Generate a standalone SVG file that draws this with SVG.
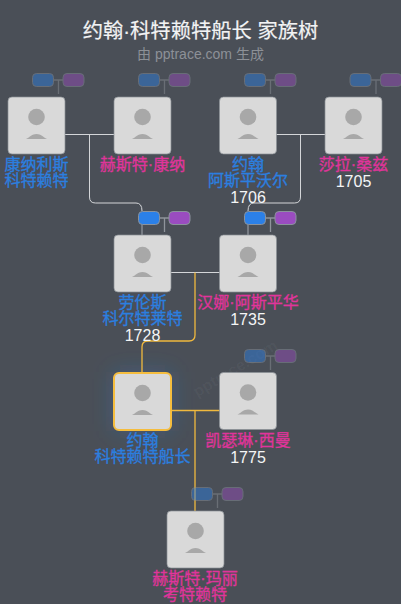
<svg xmlns="http://www.w3.org/2000/svg" width="401" height="604" viewBox="0 0 401 604">
<style>
text{font-family:"Liberation Sans","Noto Sans CJK SC",sans-serif;text-anchor:middle}
.t{font-size:20.300px;fill:#f2f3f4;stroke:#f2f3f4;stroke-width:.2}
.s{font-size:14px;fill:#8d9197}
.m{font-size:16px;fill:#2b7fe0;stroke:#2b7fe0;stroke-width:.3}
.f{font-size:16px;fill:#e0349b;stroke:#e0349b;stroke-width:.3}
.y{font-size:16px;fill:#f4f5f6}
.w{font-size:16px;font-weight:700;fill:#fff;fill-opacity:.04}
.box{fill:#d9d9d9;stroke:#8b9096;stroke-width:.7}
.sel{fill:#d9d9d9;stroke:#f5bd3e;stroke-width:2}
.hd{fill:#a8a8a8}
.bb{fill:#2b80e8;stroke:#8a929c}
.bp{fill:#9a4cc0;stroke:#8a929c}
.dim{opacity:.45}
.c{fill:none;stroke:#d4d6d9;stroke-width:1}
.g{fill:none;stroke:#f0b93e;stroke-width:1.300}
.k{fill:none;stroke:#8f949b;stroke-width:1.300}
</style>
<defs>
<g id="av"><circle cx="28.500" cy="20" r="8.300" class="hd"/><path d="M18 42C22 40 24 37 28.500 37C33 37 35 40 39 42Z" class="hd"/></g>
<g id="bd"><path d="M21.500 7H31M26.500 7V21" class="k"/><rect class="bb" x=".5" y=".5" width="21" height="13" rx="4"/><rect class="bp" x="31" y=".5" width="21" height="13" rx="4"/></g>
<filter id="bl" x="-60%" y="-60%" width="220%" height="220%"><feGaussianBlur stdDeviation="11"/></filter>
</defs>
<rect id="background" width="401" height="604" fill="#4a4f57"/>
<text class="w" transform="translate(238 373) rotate(-31)">pptrace.com</text>
<text id="title" class="t" x="200.500" y="38">约翰·科特赖特船长 家族树</text>
<text id="subtitle" class="s" x="200.500" y="59">由 pptrace.com 生成</text>
<rect x="113" y="372" width="59" height="59" fill="#2b7fe0" fill-opacity=".28" filter="url(#bl)"/>
<g id="connectors">
<path class="c" d="M65 134.500H114M89.500 134.500V197Q89.500 203 95.500 203H136Q142 203 142 211"/>
<path class="c" d="M276 134.500H325M300.500 134.500V197Q300.500 203 294.500 203H254Q248 203 248 211"/>
<path class="c" d="M170 272.500H220"/>
<path class="k" d="M142 224V235M248 224V235"/>
<path class="g" d="M195 272.500V335Q195 341 189 341H148Q142 341 142 347V372"/>
<path class="g" d="M172 410.500H220M195 410.500V511"/>
</g>
<g id="person-1"><use href="#bd" class="dim" x="32" y="73"/><rect class="box" x="8" y="97" width="57" height="57" rx="4"/><use href="#av" x="8" y="97"/><text class="m" x="36.500" y="170">康纳利斯</text><text class="m" x="36.500" y="186">科特赖特</text></g>
<g id="person-2"><use href="#bd" class="dim" x="138" y="73"/><rect class="box" x="114" y="97" width="57" height="57" rx="4"/><use href="#av" x="114" y="97"/><text class="f" x="142.500" y="170">赫斯特·康纳</text></g>
<g id="person-3"><use href="#bd" class="dim" x="244" y="73"/><rect class="box" x="219.500" y="97" width="57" height="57" rx="4"/><use href="#av" x="219.500" y="97"/><text class="m" x="248" y="170">约翰</text><text class="m" x="248" y="186">阿斯平沃尔</text><text class="y" x="248" y="203">1706</text></g>
<g id="person-4"><use href="#bd" class="dim" x="349.500" y="73"/><rect class="box" x="325" y="97" width="57" height="57" rx="4"/><use href="#av" x="325" y="97"/><text class="f" x="353.500" y="170">莎拉·桑兹</text><text class="y" x="353.500" y="187">1705</text></g>
<g id="person-5"><use href="#bd" x="138" y="211"/><rect class="box" x="114" y="235" width="57" height="57" rx="4"/><use href="#av" x="114" y="235"/><text class="m" x="142.500" y="308">劳伦斯</text><text class="m" x="142.500" y="324">科尔特莱特</text><text class="y" x="142.500" y="341">1728</text></g>
<g id="person-6"><use href="#bd" x="244" y="211"/><rect class="box" x="219.500" y="235" width="57" height="57" rx="4"/><use href="#av" x="219.500" y="235"/><text class="f" x="248" y="308">汉娜·阿斯平华</text><text class="y" x="248" y="325">1735</text></g>
<g id="person-7"><rect class="sel" x="114" y="373" width="57" height="57" rx="5"/><use href="#av" x="114" y="373"/><text class="m" x="142.500" y="446">约翰</text><text class="m" x="142.500" y="462">科特赖特船长</text></g>
<g id="person-8"><use href="#bd" class="dim" x="244" y="349"/><rect class="box" x="219.500" y="372.500" width="57" height="57" rx="4"/><use href="#av" x="219.500" y="372.500"/><text class="f" x="248" y="446">凯瑟琳·西曼</text><text class="y" x="248" y="463">1775</text></g>
<g id="person-9"><use href="#bd" class="dim" x="191" y="487"/><rect class="box" x="167" y="511" width="57" height="57" rx="4"/><use href="#av" x="167" y="511"/><text class="f" x="195" y="584">赫斯特·玛丽</text><text class="f" x="195" y="600">考特赖特</text></g>
</svg>
